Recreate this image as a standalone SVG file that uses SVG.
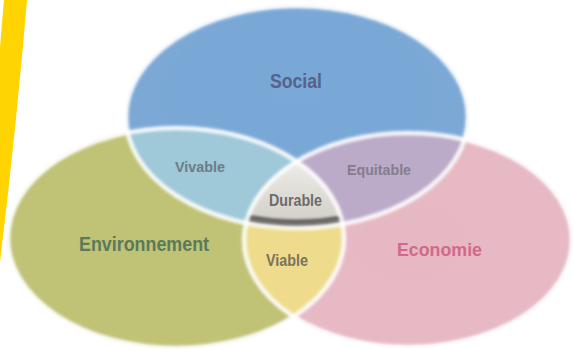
<svg xmlns="http://www.w3.org/2000/svg" width="574" height="349" viewBox="0 0 574 349">
<defs>
<style>
.lbl{font-family:"Liberation Sans",Arial,sans-serif;font-weight:bold;}
.glow{fill:none;stroke:#ffffff;stroke-width:4.5;opacity:0.9;}
</style>
<ellipse id="eS" cx="297" cy="117" rx="171" ry="111"/>
<ellipse id="eE" cx="176" cy="238" rx="168" ry="110"/>
<ellipse id="eC" cx="408" cy="240" rx="164" ry="107"/>
<clipPath id="cS"><use href="#eS"/></clipPath>
<clipPath id="cE"><use href="#eE"/></clipPath>
<clipPath id="cC"><use href="#eC"/></clipPath>
<filter id="soft" x="-10%" y="-10%" width="120%" height="120%"><feGaussianBlur stdDeviation="1"/></filter>
<filter id="blur2" x="-10%" y="-10%" width="120%" height="120%"><feGaussianBlur stdDeviation="1.6"/></filter>
<linearGradient id="gDur" x1="0" y1="0" x2="0" y2="1">
<stop offset="0" stop-color="#f2f1ed"/>
<stop offset="1" stop-color="#cbc7bf"/>
</linearGradient>
<radialGradient id="gS" cx="0.5" cy="0.4" r="0.6">
<stop offset="0" stop-color="#7aa8d7"/>
<stop offset="0.85" stop-color="#7ba8d6"/>
<stop offset="1" stop-color="#9cc0e2"/>
</radialGradient>
<radialGradient id="gE" cx="0.5" cy="0.5" r="0.6">
<stop offset="0" stop-color="#c0c274"/>
<stop offset="0.85" stop-color="#c0c276"/>
<stop offset="1" stop-color="#d2d396"/>
</radialGradient>
<radialGradient id="gC" cx="0.5" cy="0.5" r="0.6">
<stop offset="0" stop-color="#e6b8c3"/>
<stop offset="0.85" stop-color="#e7b9c4"/>
<stop offset="1" stop-color="#efcdd5"/>
</radialGradient>
</defs>
<rect width="574" height="349" fill="#ffffff"/>
<path d="M4,0 L27,0 Q16,130 0,262 L0,48 Q2,22 4,0 Z" fill="#ffd400"/>
<g filter="url(#soft)">
<g id="environnement"><use href="#eE" fill="url(#gE)"/></g>
<g id="economie"><use href="#eC" fill="url(#gC)"/></g>
<g id="social"><use href="#eS" fill="url(#gS)"/></g>
<g id="vivable" clip-path="url(#cS)"><g clip-path="url(#cE)"><rect x="0" y="0" width="574" height="349" fill="#9fc8d8"/></g></g>
<g id="equitable" clip-path="url(#cS)"><g clip-path="url(#cC)"><rect x="0" y="0" width="574" height="349" fill="#bbaac8"/></g></g>
<g id="viable" clip-path="url(#cE)"><g clip-path="url(#cC)"><rect x="0" y="0" width="574" height="349" fill="#eedc8c"/></g></g>
<g id="durable" clip-path="url(#cS)"><g clip-path="url(#cE)"><g clip-path="url(#cC)">
<rect x="230" y="150" width="120" height="90" fill="url(#gDur)"/>
<use href="#eS" fill="none" stroke="#6c6b68" stroke-width="18"/>
</g></g></g>
</g>
<g filter="url(#blur2)">
<use href="#eS" class="glow"/>
<use href="#eE" class="glow"/>
<use href="#eC" class="glow"/>
</g>
<g id="connectors"/>
<g id="labels">
<text class="lbl" x="270" y="88" font-size="20" textLength="52" lengthAdjust="spacingAndGlyphs" fill="#55638a">Social</text>
<text class="lbl" x="175" y="172" font-size="15" textLength="50" lengthAdjust="spacingAndGlyphs" fill="#6b7c88">Vivable</text>
<text class="lbl" x="347" y="175" font-size="15" textLength="64" lengthAdjust="spacingAndGlyphs" fill="#857d8e">Equitable</text>
<text class="lbl" x="269" y="206" font-size="16" textLength="53" lengthAdjust="spacingAndGlyphs" fill="#6c6c6a">Durable</text>
<text class="lbl" x="266" y="266" font-size="16" textLength="42" lengthAdjust="spacingAndGlyphs" fill="#7a735c">Viable</text>
<text class="lbl" x="79" y="251" font-size="20" textLength="130" lengthAdjust="spacingAndGlyphs" fill="#5a7a5c">Environnement</text>
<text class="lbl" x="397" y="256" font-size="19" textLength="85" lengthAdjust="spacingAndGlyphs" fill="#d0698a">Economie</text>
</g>
</svg>
